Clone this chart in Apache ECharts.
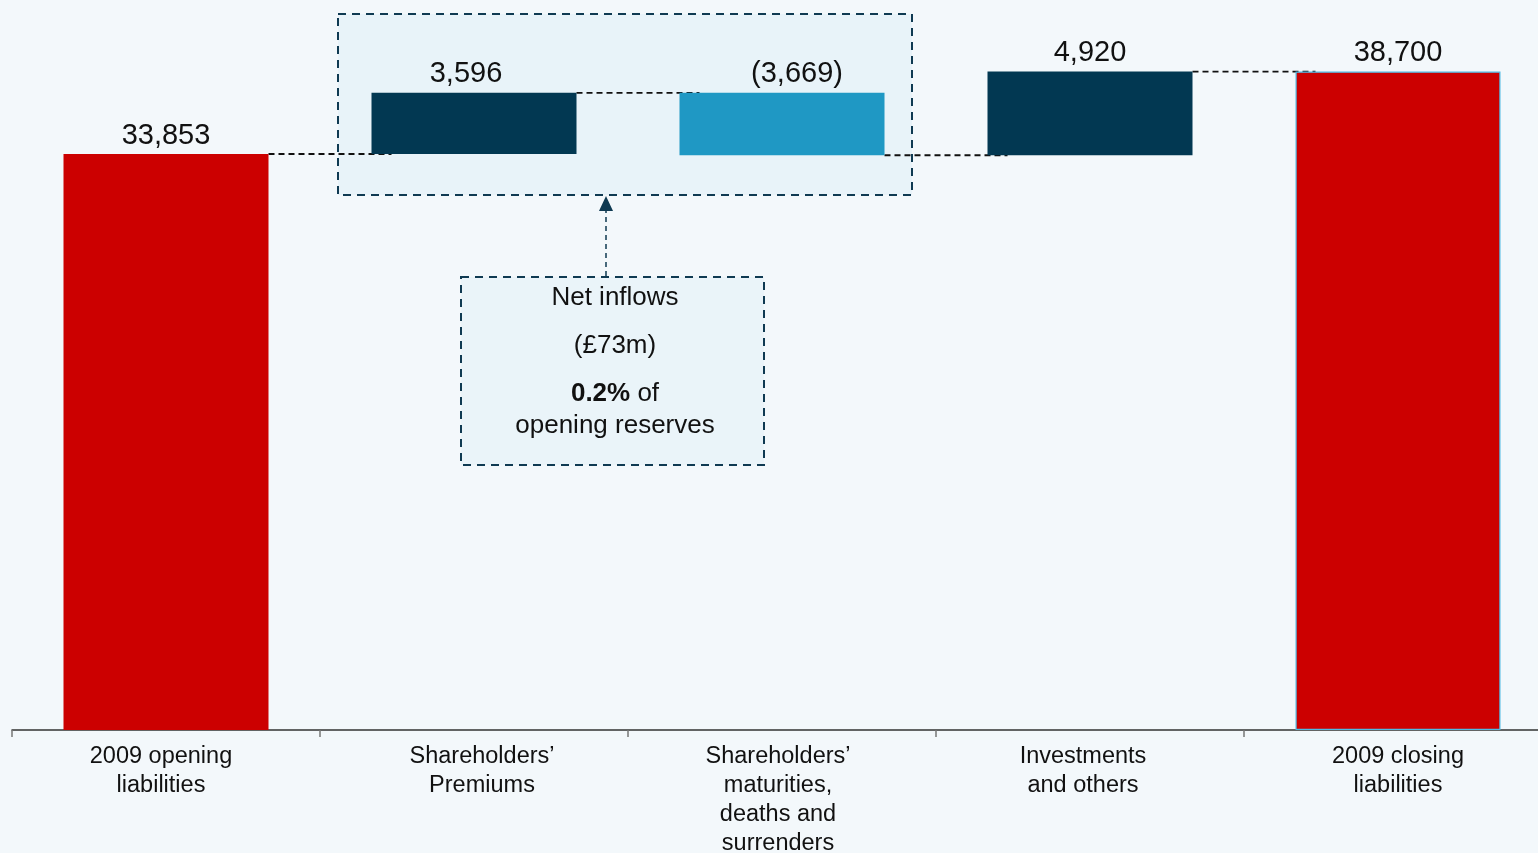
<!DOCTYPE html>
<html>
<head>
<meta charset="utf-8">
<script src="https://cdn.jsdelivr.net/npm/echarts@6/dist/echarts.min.js"></script>
<style>
  html, body { margin: 0; padding: 0; background: #F3F8FB; }
  #chart { width: 1538px; height: 853px; }
</style>
</head>
<body>
<div id="chart"></div>
<script>
// Liability movements, £m
const categories = [
  '2009 opening\nliabilities',
  'Shareholders\u2019\nPremiums',
  'Shareholders\u2019\nmaturities,\ndeaths and\nsurrenders',
  'Investments\nand others',
  '2009 closing\nliabilities'
];
const changes = [33853, 3596, -3669, 4920, 38700];
const kinds = ['total', 'up', 'down', 'up', 'total'];
const valueLabels = ['33,853', '3,596', '(3,669)', '4,920', '38,700'];

const COLORS = { total: '#CC0000', up: '#023852', down: '#1F98C4' };
const FONT = '"Liberation Sans", Arial, sans-serif';

// Waterfall geometry: invisible base + visible step
const bases = [], steps = [], levels = [];
let running = 0;
changes.forEach((v, i) => {
  if (kinds[i] === 'total') { bases.push(0); steps.push(v); running = v; }
  else if (v >= 0) { bases.push(running); steps.push(v); running += v; }
  else { running += v; bases.push(running); steps.push(-v); }
  levels.push(running);
});

// Dashed connectors run from each bar to the next at the running level
const connectors = [];
for (let i = 0; i < changes.length - 1; i++) connectors.push([i, levels[i]]);

const labelShift = [[0, 0], [-8, 0], [15, 0], [0, 0], [0, 0]];
const catLabelShift = [-5, 8, -4, -7, 0];
const BAR_W = 205;

const chart = echarts.init(document.getElementById('chart'));

const option = {
  backgroundColor: '#F3F8FB',
  animation: false,
  grid: { left: 12, width: 1540, top: 15.4, bottom: 123, containLabel: false, outerBoundsMode: 'none' },
  xAxis: {
    type: 'category',
    data: categories,
    axisLine: { lineStyle: { color: '#333', width: 1.5 } },
    axisTick: { show: true, length: 7, lineStyle: { color: '#777', width: 1.5 } },
    axisLabel: { show: false }
  },
  yAxis: {
    type: 'value', min: 0, max: 42000, show: false,
    splitLine: { show: false }
  },
  graphic: [
    // shaded group around the two shareholder flows
    {
      type: 'rect', z: 0,
      shape: { x: 338, y: 14, width: 574, height: 181 },
      style: { fill: '#E8F3F9', stroke: '#0F3A52', lineWidth: 2, lineDash: [8, 6] }
    },
    // call-out box
    {
      type: 'rect', z: 0,
      shape: { x: 461, y: 277, width: 303, height: 188 },
      style: { fill: '#EAF4F9', stroke: '#0F3A52', lineWidth: 2, lineDash: [8, 6] }
    },
    {
      type: 'line', z: 0,
      shape: { x1: 606, y1: 276, x2: 606, y2: 210 },
      style: { stroke: '#0F3A52', lineWidth: 1.5, lineDash: [5, 4] }
    },
    {
      type: 'polygon', z: 0,
      shape: { points: [[606, 196], [599, 211], [613, 211]] },
      style: { fill: '#0F3A52' }
    },
    {
      type: 'text', z: 1, x: 615, y: 298,
      style: { text: 'Net inflows', font: '26px ' + FONT, fill: '#111', textAlign: 'center', textVerticalAlign: 'middle' }
    },
    {
      type: 'text', z: 1, x: 615, y: 346,
      style: { text: '(\u00A373m)', font: '26px ' + FONT, fill: '#111', textAlign: 'center', textVerticalAlign: 'middle' }
    },
    {
      type: 'text', z: 1, x: 615, y: 394,
      style: {
        text: '{b|0.2%} of', textAlign: 'center', textVerticalAlign: 'middle',
        font: '26px ' + FONT, fill: '#111',
        rich: { b: { fontWeight: 'bold', fontSize: 26, fontFamily: FONT, fill: '#111' } }
      }
    },
    {
      type: 'text', z: 1, x: 615, y: 426,
      style: { text: 'opening reserves', font: '26px ' + FONT, fill: '#111', textAlign: 'center', textVerticalAlign: 'middle' }
    }
  ],
  series: [
    {
      type: 'custom', z: 1, silent: true,
      data: connectors,
      renderItem: function (params, api) {
        const i = api.value(0), lvl = api.value(1);
        const a = api.coord([i, lvl]);
        const b = api.coord([i + 1, lvl]);
        return {
          type: 'line',
          shape: { x1: a[0] + BAR_W / 2, y1: a[1], x2: b[0] - BAR_W / 2 + 20, y2: b[1] },
          style: { stroke: '#111', lineWidth: 1.8, lineDash: [6, 4] }
        };
      }
    },
    {
      type: 'bar', stack: 'wf', barWidth: BAR_W, z: 2, silent: true,
      itemStyle: { color: 'transparent' },
      data: bases
    },
    {
      type: 'bar', stack: 'wf', barWidth: BAR_W, z: 3,
      data: steps.map((v, i) => ({
        value: v,
        itemStyle: kinds[i] === 'total' && i === steps.length - 1
          ? { color: COLORS.total, borderColor: '#4FB9E3', borderWidth: 1.2 }
          : { color: COLORS[kinds[i]] },
        label: {
          show: true, position: 'top', distance: 4,
          offset: labelShift[i],
          formatter: valueLabels[i],
          fontSize: 29, color: '#111', fontFamily: FONT
        }
      }))
    },
    // category captions under the axis
    {
      type: 'custom', z: 4, silent: true, clip: false,
      data: categories.map((c, i) => [i, 0]),
      renderItem: function (params, api) {
        const i = api.value(0);
        const p = api.coord([i, 0]);
        return {
          type: 'text',
          x: p[0] + catLabelShift[i], y: p[1] + 12,
          style: {
            text: categories[i], textAlign: 'center', textVerticalAlign: 'top',
            font: '23.5px ' + FONT, lineHeight: 29, fill: '#111'
          }
        };
      }
    }
  ]
};

chart.setOption(option);
</script>
</body>
</html>
